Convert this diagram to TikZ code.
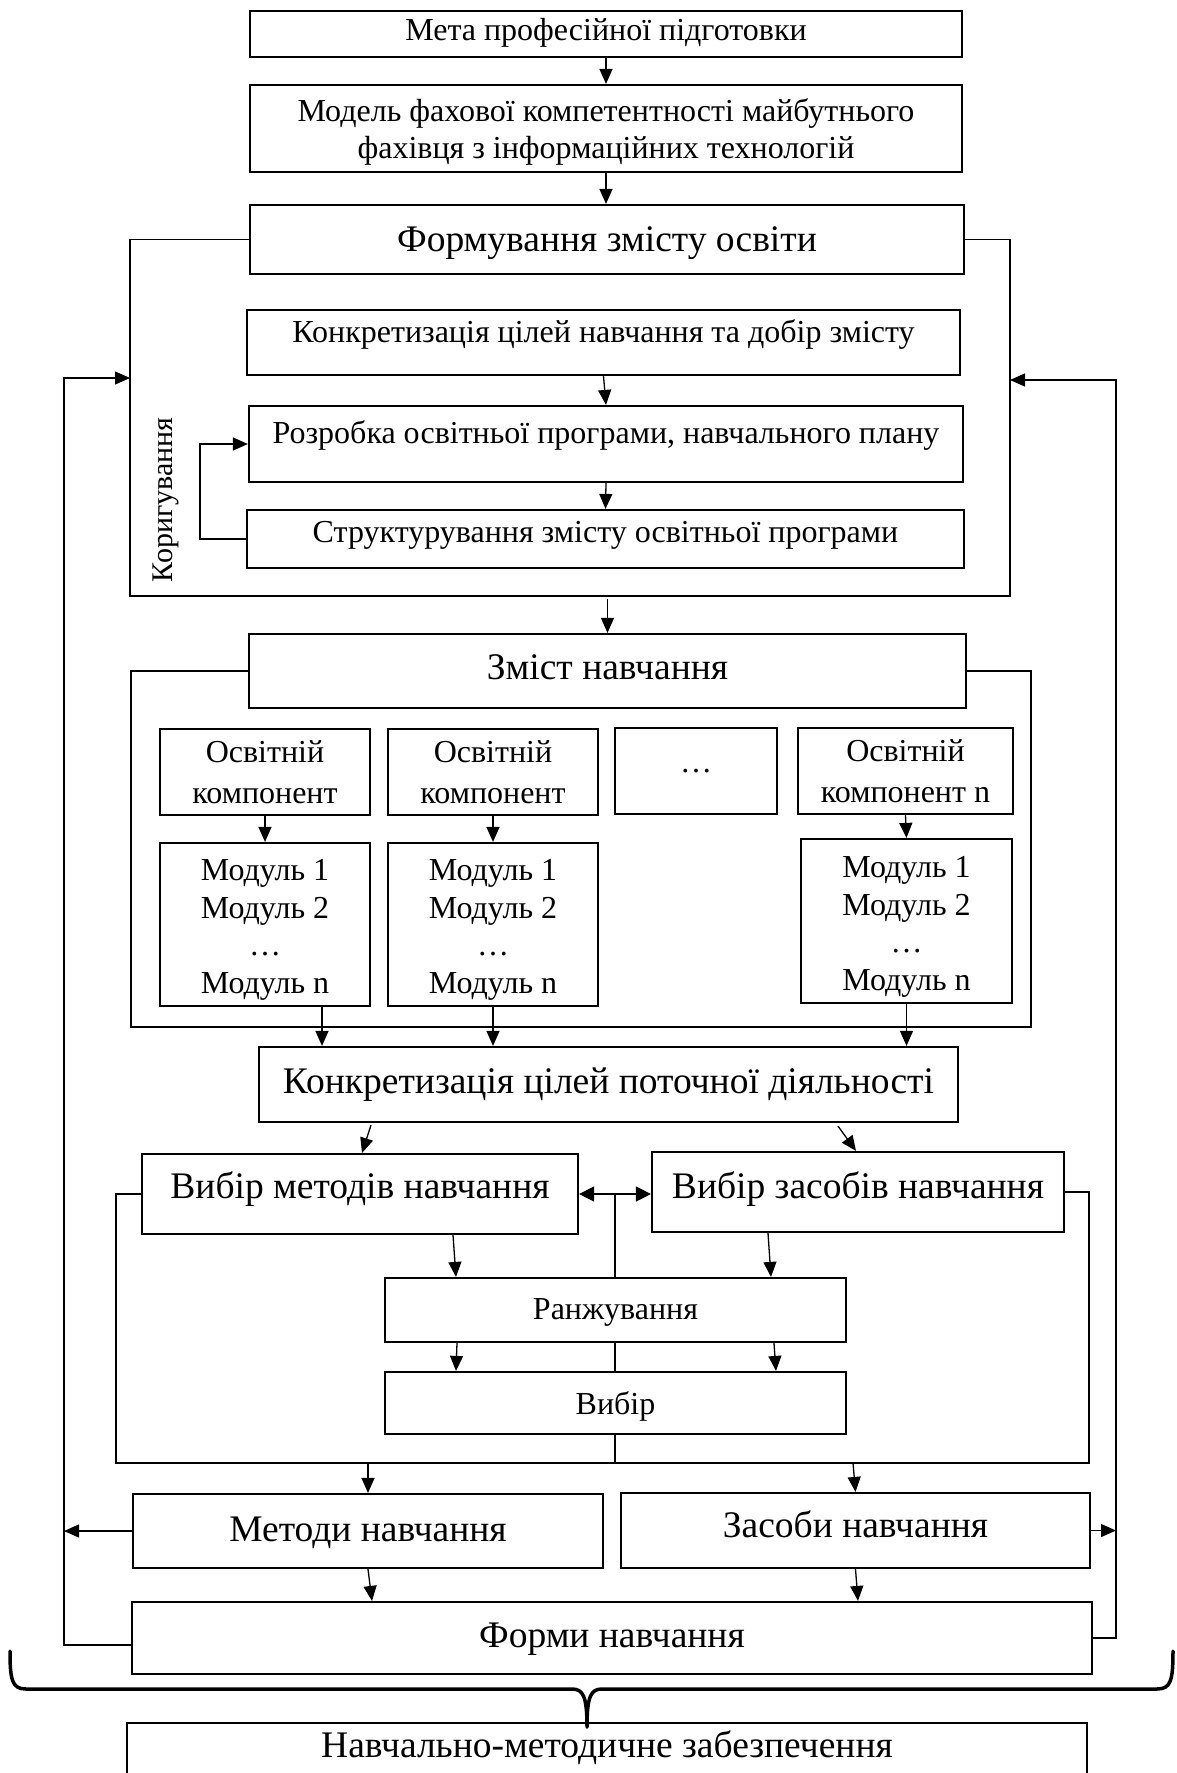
\documentclass[tikz,border=0pt]{standalone}
\usepackage{fontspec}
\setmainfont{Liberation Serif}
\usetikzlibrary{arrows.meta,calc,backgrounds}
\newcommand\szS{\fontsize{32}{37}\selectfont}
\newcommand\szM{\fontsize{32}{41}\selectfont}
\newcommand\szMod{\fontsize{32}{37.5}\selectfont}
\newcommand\szL{\fontsize{37.5}{44}\selectfont}
\newcommand\szK{\fontsize{30}{36}\selectfont}

\begin{document}
\begin{tikzpicture}[x=1pt,y=-1pt,
  box/.style={draw, fill=white, line width=2.2pt, inner sep=0pt, align=center},
  small/.style={font=\szS, text height=24pt},
  large/.style={font=\szL, text height=28pt},
  thin/.style={line width=1.3pt},
  arr/.style={thin, -{Triangle[length=15pt,width=13pt]}},
  dbl/.style={thin, {Triangle[length=15pt,width=15pt]}-{Triangle[length=15pt,width=15pt]}},
  bracepath/.style={line width=3.5pt, line cap=round, line join=round},
]
\useasboundingbox (0,0) rectangle (1176,1773);
\begin{pgfonlayer}{background}
  \fill[white] (0,0) rectangle (1176,1773);
\end{pgfonlayer}

% --- top chain ---
\node[box, small, text depth=11.8pt, minimum width=712pt, minimum height=46pt] (meta) at (606,34) {Мета професійної підготовки};
\node[box, font=\szS, minimum width=712pt, minimum height=87pt] (model) at (606,128.5)
  {\rule{0pt}{29pt}Модель фахової компетентності майбутнього\\фахівця з інформаційних технологій};
\node[box, large, text depth=5pt, minimum width=714pt, minimum height=69pt] (form) at (607,239.5) {Формування змісту освіти};

% --- content formation block ---
\node[box, small, text depth=24.8pt, minimum width=713pt, minimum height=65pt] (konkr1) at (603.5,342.5)
  {Конкретизація цілей навчання та добір змісту};
\node[box, small, text depth=24.4pt, minimum width=714pt, minimum height=76pt] (rozr) at (606,444)
  {Розробка освітньої програми, навчального плану};
\node[box, small, text depth=17.6pt, minimum width=717pt, minimum height=58pt] (strukt) at (605.5,539)
  {Структурування змісту освітньої програми};
\node[font=\szK, rotate=90] (korig) at (166,500) {Коригування};

% --- content of study ---
\node[box, large, text depth=10.8pt, minimum width=717pt, minimum height=74pt] (zmist) at (607.5,671) {Зміст навчання};
\node[box, font=\szM, minimum width=210pt, minimum height=86pt] (comp1) at (265,772) {Освітній\\компонент};
\node[box, font=\szM, minimum width=210pt, minimum height=86pt] (comp2) at (493,772) {Освітній\\компонент};
\node[box, small, text depth=22pt, minimum width=162pt, minimum height=86pt] (compd) at (696,771) {…};
\node[box, font=\szM, minimum width=215pt, minimum height=86pt] (compn) at (905.5,771) {Освітній\\компонент n};
\node[box, font=\szMod, minimum width=210pt, minimum height=163pt] (mod1) at (265,924.5) {\rule{0pt}{32pt}Модуль 1\\Модуль 2\\…\\Модуль n};
\node[box, font=\szMod, minimum width=210pt, minimum height=163pt] (mod2) at (493,924.5) {\rule{0pt}{32pt}Модуль 1\\Модуль 2\\…\\Модуль n};
\node[box, font=\szMod, minimum width=211pt, minimum height=164pt] (modn) at (906.5,921) {\rule{0pt}{33pt}Модуль 1\\Модуль 2\\…\\Модуль n};

% --- selection of methods and tools ---
\node[box, large, text depth=10.2pt, minimum width=699pt, minimum height=75pt] (konkr2) at (608.5,1084.5)
  {Конкретизація цілей поточної діяльності};
\node[box, large, text depth=18.8pt, minimum width=436pt, minimum height=80pt] (vm) at (360,1194) {Вибір методів навчання};
\node[box, large, text depth=14.8pt, minimum width=412pt, minimum height=80pt] (vz) at (858,1192) {Вибір засобів навчання};
\node[box, small, text depth=5.8pt, minimum width=461pt, minimum height=64pt] (ranzh) at (615.5,1310) {Ранжування};
\node[box, small, text depth=1.8pt, minimum width=461pt, minimum height=62pt] (vybir) at (615.5,1403) {Вибір};

% --- results ---
\node[box, large, text depth=7.5pt, minimum width=470pt, minimum height=74pt] (metody) at (368,1531) {Методи навчання};
\node[box, large, text depth=13.3pt, minimum width=469pt, minimum height=75pt] (zasoby) at (855.5,1530.5) {Засоби навчання};
\node[box, large, text depth=9pt, minimum width=960pt, minimum height=72pt] (formy) at (612,1638) {Форми навчання};
\node[box, large, text depth=21.5pt, minimum width=960pt, minimum height=62pt] (nmz) at (607,1754) {Навчально-методичне забезпечення};

% --- frames ---
\coordinate (f1bl) at (130,596);  \coordinate (f1br) at (1010,596);
\coordinate (f2bl) at (131,1027); \coordinate (f2br) at (1031,1027);
\coordinate (f3bl) at (116,1463); \coordinate (f3br) at (1089,1463);
\draw[thin] (form.west) -| (f1bl) -- (f1br) |- (form.east);
\draw[thin] (zmist.west) -| (f2bl) -- (f2br) |- (zmist.east);
\draw[thin] (vm.west) -| (f3bl) -- (f3br) |- (vz.east);

% --- arrows, top part ---
\draw[arr] (meta.south) -- (meta.south |- model.north);
\draw[arr] (model.south) -- (model.south |- form.north);
\draw[arr] (konkr1.south) -- (rozr.north);
\draw[arr] (rozr.south) -- (strukt.north);
\coordinate (kfb) at (200,539);
\draw[arr] (strukt.west) -- (kfb) |- (rozr.west);
\coordinate (f1out) at ($(f1bl -| zmist.north)+(0,3)$);
\draw[arr] (f1out) -- (zmist.north);

% --- components to modules to goals ---
\draw[arr] (comp1) -- (mod1);
\draw[arr] (comp2) -- (mod2);
\draw[arr] (compn.south) -- (modn.north);
\coordinate (m1o) at ($(mod1.south)+(57,0)$);
\draw[arr] (m1o) -- (m1o |- konkr2.north);
\draw[arr] (mod2.south) -- (mod2.south |- konkr2.north);
\draw[arr] (modn.south) -- (modn.south |- konkr2.north);

% --- goals to selections ---
\draw[arr] ($(konkr2.south)+(-237.5,2)$) -- ($(vm.north)+(2,0)$);
\draw[arr] ($(konkr2.south)+(229.5,3)$) -- ($(vz.north)+(-2,0)$);
\draw[dbl] (vm.east) -- (vm.east -| vz.west);
\coordinate (mid) at ($(vm.east)!.5!(vm.east -| vz.west)$);
\begin{pgfonlayer}{background}
  \draw[thin] (mid) -- (mid |- f3bl);
\end{pgfonlayer}
\draw[arr] ($(vm.south)+(93,0)$) -- ($(ranzh.north)+(-159.5,0)$);
\draw[arr] ($(vz.south)+(-90,0)$) -- ($(ranzh.north)+(155.5,0)$);
\draw[arr] ($(ranzh.south)+(-158.5,0)$) -- ($(vybir.north)+(-159.5,0)$);
\draw[arr] ($(ranzh.south)+(158.5,0)$) -- ($(vybir.north)+(160.5,0)$);

% --- selections to results ---
\coordinate (f3m) at (metody.north |- f3bl);
\draw[arr] (f3m) -- (metody.north);
\coordinate (f3z) at ($(zasoby.north |- f3bl)+(-2.5,0)$);
\draw[arr] (f3z) -- (zasoby.north);
\draw[arr] (metody.south) -- ($(formy.north)+(-240,0)$);
\draw[arr] (zasoby.south) -- ($(formy.north)+(246,0)$);

% --- feedback loops ---
\coordinate (lfb) at (64,378);
\draw[arr] ([yshift=-7pt]formy.west) -| (lfb) -- (lfb -| f1bl);
\draw[arr] (metody.west) -- (metody.west -| lfb);
\coordinate (rfb) at (1116,380);
\draw[arr] (formy.east) -| (rfb) -- (rfb -| f1br);
\draw[arr] (zasoby.east) -- (zasoby.east -| rfb);

% --- brace over the whole scheme ---
\draw[bracepath] (10,1651) .. controls (10,1680) and (12,1689) .. (26,1689)
  -- (572,1689) .. controls (583,1689) and (587,1696) .. (587,1727)
  .. controls (587,1696) and (591,1689) .. (602,1689)
  -- (1157,1689) .. controls (1171,1689) and (1173,1680) .. (1173,1651);
\end{tikzpicture}
\end{document}
